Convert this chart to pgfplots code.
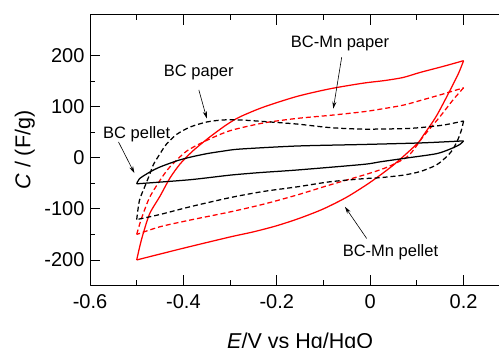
\documentclass[border=0pt]{standalone}
\usepackage{fontspec}
\setmainfont{Liberation Sans}
\usepackage{pgfplots}
\pgfplotsset{compat=1.18}
\usetikzlibrary{arrows.meta}
\definecolor{myred}{RGB}{255,0,0}
\begin{document}
\begin{tikzpicture}
\begin{axis}[
  scale only axis, width=420.3pt, height=270.8pt,
  xmin=-0.6, xmax=0.3, ymin=-250, ymax=280,
  xtick={-0.6,-0.4,-0.2,0,0.2}, ytick={-200,-100,0,100,200},
  minor x tick num=1, minor y tick num=1,
  major tick length=10pt, minor tick length=5pt, tick align=inside,
  axis line style={line width=0.8pt},
  every tick/.style={line width=0.8pt, black},
  /pgf/number format/assume math mode=true,
  tick label style={font=\fontsize{20}{24}\selectfont},
  xticklabel style={yshift=-6pt},
  yticklabel style={xshift=-2pt},
  xlabel={\textit{E}/V vs Hg/HgO},
  ylabel={\textit{C} / (F/g)},
  every axis x label/.style={at={(axis description cs:0.5,-0.232)}, anchor=base, font=\fontsize{21.5}{26}\selectfont},
  every axis y label/.style={at={(axis description cs:-0.155,0.5)}, anchor=center, rotate=90, font=\fontsize{21.5}{26}\selectfont},
  line join=round,
  br/.style={smooth, tension=0.45, line width=1.25pt},
  dsh/.style={dash pattern=on 5pt off 3pt},
]
% BC-Mn pellet
\addplot[myred, br] coordinates {
(-0.5,-200) (-0.493,-172) (-0.486,-148) (-0.472,-109) (-0.45,-75) (-0.429,-40) (-0.407,-12) (-0.379,14) (-0.343,41) (-0.307,65) (-0.279,80) (-0.229,99) (-0.157,120) (-0.086,135) (-0.015,146) (0.03,151) (0.07,157) (0.107,167) (0.157,179) (0.2,190)};
\addplot[myred, br] coordinates {
(0.2,190) (0.189,165) (0.171,132) (0.142,82) (0.114,44) (0.1,27) (0.05,-14) (0,-48) (-0.05,-77) (-0.1,-100) (-0.15,-118) (-0.2,-133) (-0.25,-145) (-0.3,-155) (-0.4,-177) (-0.5,-200)};
% BC-Mn paper
\addplot[myred, br, dsh] coordinates {
(-0.5,-150) (-0.493,-128) (-0.486,-109) (-0.472,-77) (-0.45,-44) (-0.429,-18) (-0.393,13) (-0.35,34) (-0.3,53) (-0.229,68) (-0.157,77) (-0.086,83) (-0.015,90) (0.021,95) (0.071,103) (0.107,112) (0.157,125) (0.2,137)};
\addplot[myred, br, dsh] coordinates {
(0.2,137) (0.178,114) (0.149,80) (0.114,42) (0.082,4) (0.04,-17) (0,-30) (-0.093,-55) (-0.157,-73) (-0.229,-91) (-0.3,-106) (-0.386,-122) (-0.45,-135) (-0.5,-150)};
% BC paper
\addplot[black, br, dsh] coordinates {
(-0.5,-121) (-0.494,-83) (-0.482,-55) (-0.472,-32) (-0.464,-13) (-0.45,8) (-0.436,27) (-0.414,46) (-0.386,60) (-0.35,70) (-0.315,74) (-0.279,74) (-0.229,71) (-0.157,66) (-0.086,59) (-0.015,56) (0.071,57) (0.107,59) (0.157,64) (0.2,72)};
\addplot[black, br, dsh] coordinates {
(0.2,72) (0.195,53) (0.188,36) (0.178,18) (0.167,5) (0.142,-14) (0.107,-27) (0.071,-34) (0.021,-39) (-0.015,-41) (-0.086,-47) (-0.157,-57) (-0.229,-66) (-0.3,-78) (-0.386,-96) (-0.45,-111) (-0.5,-121)};
% BC pellet
\addplot[black, br] coordinates {
(-0.5,-51) (-0.494,-41) (-0.472,-28) (-0.45,-18) (-0.414,-6) (-0.386,1) (-0.35,8) (-0.315,13) (-0.279,17) (-0.157,23) (-0.015,26) (0.107,29) (0.178,32) (0.2,33)};
\addplot[black, br] coordinates {
(0.2,33) (0.192,26) (0.171,17) (0.142,8) (0.082,0) (0.021,-8) (-0.015,-13) (-0.157,-24) (-0.236,-29) (-0.3,-34) (-0.386,-43) (-0.5,-51)};
% annotations
\begin{scope}[every node/.style={font=\fontsize{16.5}{20}\selectfont, inner sep=0pt}]
\node at (axis cs:-0.0647,224) {BC-Mn paper};
\node at (axis cs:-0.367,166) {BC paper};
\node at (axis cs:-0.50,47) {BC pellet};
\node at (axis cs:0.0435,-184) {BC-Mn pellet};
\end{scope}
\begin{scope}[line width=0.6pt, -{Stealth[length=7pt,width=4pt]}]
\draw (axis cs:-0.061,197) -- (axis cs:-0.079,96);
\draw (axis cs:-0.367,133) -- (axis cs:-0.350,77);
\draw (axis cs:-0.539,31) -- (axis cs:-0.505,-30);
\draw (axis cs:-0.0075,-158) -- (axis cs:-0.054,-96);
\end{scope}
\end{axis}
\pgfresetboundingbox
\useasboundingbox (-90pt,-62pt) rectangle (409pt,285.5pt);
\end{tikzpicture}
\end{document}
